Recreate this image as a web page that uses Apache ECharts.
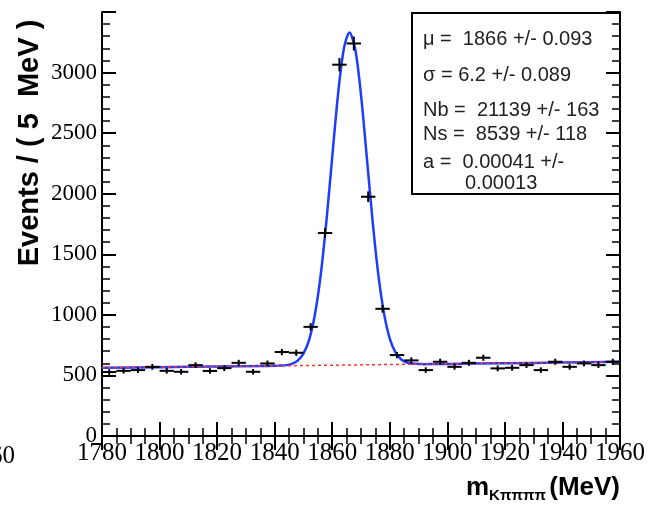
<!DOCTYPE html>
<html>
<head>
<meta charset="utf-8">
<script src="https://cdn.jsdelivr.net/npm/echarts@6/dist/echarts.min.js"></script>
<style>
  html, body { margin: 0; padding: 0; background: #fff; }
  #chart { width: 648px; height: 506px; }
</style>
</head>
<body>
<div id="chart"></div>
<script>
// bin centres (5 MeV bins) and counts
const binCenters = [1782.5, 1787.5, 1792.5, 1797.5, 1802.5, 1807.5, 1812.5, 1817.5, 1822.5, 1827.5,
  1832.5, 1837.5, 1842.5, 1847.5, 1852.5, 1857.5, 1862.5, 1867.5, 1872.5, 1877.5,
  1882.5, 1887.5, 1892.5, 1897.5, 1902.5, 1907.5, 1912.5, 1917.5, 1922.5, 1927.5,
  1932.5, 1937.5, 1942.5, 1947.5, 1952.5, 1957.5];
const counts = [528, 538, 544, 571, 538, 530, 585, 537, 560, 604,
  530, 599, 693, 687, 901, 1676, 3065, 3240, 1975, 1050,
  668, 624, 544, 613, 571, 604, 646, 558, 563, 585,
  544, 613, 571, 599, 585, 613];
const errors = [23, 23, 23, 24, 23, 23, 24, 23, 24, 25,
  23, 24, 26, 26, 30, 41, 55, 57, 44, 32,
  26, 25, 23, 25, 24, 25, 25, 24, 24, 24,
  23, 25, 24, 24, 24, 25];

// fitted total curve (blue)
const curveX = [1780, 1800, 1820, 1836, 1840, 1842, 1844, 1846, 1848, 1850, 1852, 1854, 1856, 1858,
  1860, 1862, 1864, 1866, 1868, 1870, 1872, 1874, 1876, 1878, 1880, 1882, 1884, 1886,
  1888, 1890, 1892, 1896, 1900, 1920, 1940, 1960];
const curveY = [563, 568, 574, 578, 579, 582, 585, 596, 622, 680, 796, 1005, 1330, 1778,
  2303, 2814, 3191, 3331, 3192, 2816, 2306, 1782, 1336, 1012, 804, 689, 632, 607,
  597, 595, 593, 594, 595, 601, 606, 612];

// background component (red dotted)
const bgX = [1780, 1870, 1960];
const bgY = [563, 587, 612];

const xTicks = ['1780', '1800', '1820', '1840', '1860', '1880', '1900', '1920', '1940', '1960'];
const statLines = ['\u03bc =  1866 +/- 0.093', '\u03c3 = 6.2 +/- 0.089', 'Nb =  21139 +/- 163',
  'Ns =  8539 +/- 118', 'a =  0.00041 +/-', '0.00013'];

let chart = echarts.init(document.getElementById('chart'), null, { renderer: 'canvas' });

const axisLine = { show: true, lineStyle: { color: '#000', width: 2 } };
const axisTick = { show: true, inside: true, length: 14, lineStyle: { color: '#000', width: 2 } };
const minorStyle = { show: true, length: 8, lineStyle: { color: '#000', width: 1.5 } };

// error bars: horizontal bin width + vertical sqrt(N)
function renderErr(params, api) {
  let c = api.value(0), v = api.value(1), e = api.value(2);
  let l = api.coord([c - 2.5, v]);
  let r = api.coord([c + 2.5, v]);
  let lo = api.coord([c, v - e]);
  let hi = api.coord([c, v + e]);
  let style = { stroke: '#000', lineWidth: 2 };
  return {
    type: 'group',
    children: [
      { type: 'line', shape: { x1: l[0], y1: l[1], x2: r[0], y2: r[1] }, style: style },
      { type: 'line', shape: { x1: lo[0], y1: lo[1], x2: hi[0], y2: hi[1] }, style: style }
    ]
  };
}

let option = {
  animation: false,
  backgroundColor: '#fff',
  grid: { left: 102, right: 28, top: 12, bottom: 70, containLabel: false, outerBoundsMode: 'none' },
  xAxis: [
    {
      type: 'value', min: 1780, max: 1960, interval: 20, position: 'bottom',
      axisLine: axisLine, axisTick: axisTick, splitLine: { show: false },
      minorTick: Object.assign({ splitNumber: 4 }, minorStyle),
      axisLabel: {
        margin: 5, fontFamily: 'Liberation Serif', fontSize: 25, color: '#000',
        formatter: (v) => xTicks.indexOf(String(v)) >= 0 ? String(v) : ''
      }
    },
    {
      type: 'value', min: 1780, max: 1960, interval: 20, position: 'top',
      axisLine: axisLine, axisTick: axisTick, splitLine: { show: false },
      minorTick: Object.assign({ splitNumber: 4 }, minorStyle),
      axisLabel: { show: false }
    }
  ],
  yAxis: [
    {
      type: 'value', min: 0, max: 3500, interval: 500, position: 'left',
      axisLine: axisLine, axisTick: axisTick, splitLine: { show: false },
      minorTick: Object.assign({ splitNumber: 5 }, minorStyle),
      axisLabel: {
        margin: 5, fontFamily: 'Liberation Serif', fontSize: 23, color: '#000',
        formatter: (v) => v < 3500 ? String(v) : ''
      }
    },
    {
      type: 'value', min: 0, max: 3500, interval: 500, position: 'right',
      axisLine: axisLine, axisTick: axisTick, splitLine: { show: false },
      minorTick: Object.assign({ splitNumber: 5 }, minorStyle),
      axisLabel: { show: false }
    }
  ],
  series: [
    {
      type: 'line',
      data: curveX.map((x, i) => [x, curveY[i]]),
      showSymbol: false,
      smooth: 0.3,
      lineStyle: { color: '#1e3cff', width: 2.5 },
      z: 2
    },
    {
      type: 'line',
      data: bgX.map((x, i) => [x, bgY[i]]),
      showSymbol: false,
      lineStyle: { color: '#ff3030', width: 1.5, type: [3, 3] },
      z: 3
    },
    {
      type: 'custom',
      renderItem: renderErr,
      data: binCenters.map((c, i) => [c, counts[i], errors[i]]),
      z: 4
    }
  ],
  graphic: [
    {
      type: 'rect',
      shape: { x: 412, y: 13, width: 208, height: 181 },
      style: { fill: 'none', stroke: '#000', lineWidth: 2 }
    },
    {
      type: 'text', x: 30, y: 143, rotation: Math.PI / 2,
      style: {
        text: 'Events / ( 5  MeV )', fill: '#000', align: 'center', verticalAlign: 'middle',
        font: 'bold 29px "Liberation Sans"'
      }
    },
    {
      type: 'text', x: 620, y: 488,
      style: {
        text: '{m|m}{s|K\u03c0\u03c0\u03c0\u03c0} {m|(MeV)}',
        align: 'right', verticalAlign: 'middle',
        rich: {
          m: { font: 'bold 26px "Liberation Sans"', fill: '#000' },
          s: { font: 'bold 15px "Liberation Sans"', fill: '#000', padding: [16, 0, 0, 0] }
        }
      }
    },
    {
      type: 'text', x: -10, y: 456,
      style: { text: '60', fill: '#000', verticalAlign: 'middle', font: '25px "Liberation Serif"' }
    }
  ].concat(statLines.map((t, i) => ({
    type: 'text',
    x: i === 5 ? 465 : 423,
    y: [39, 75, 110, 134, 162, 183][i],
    style: { text: t, fill: '#222', verticalAlign: 'middle', font: '20px "Liberation Sans"' }
  })))
};

chart.setOption(option);
</script>
</body>
</html>
